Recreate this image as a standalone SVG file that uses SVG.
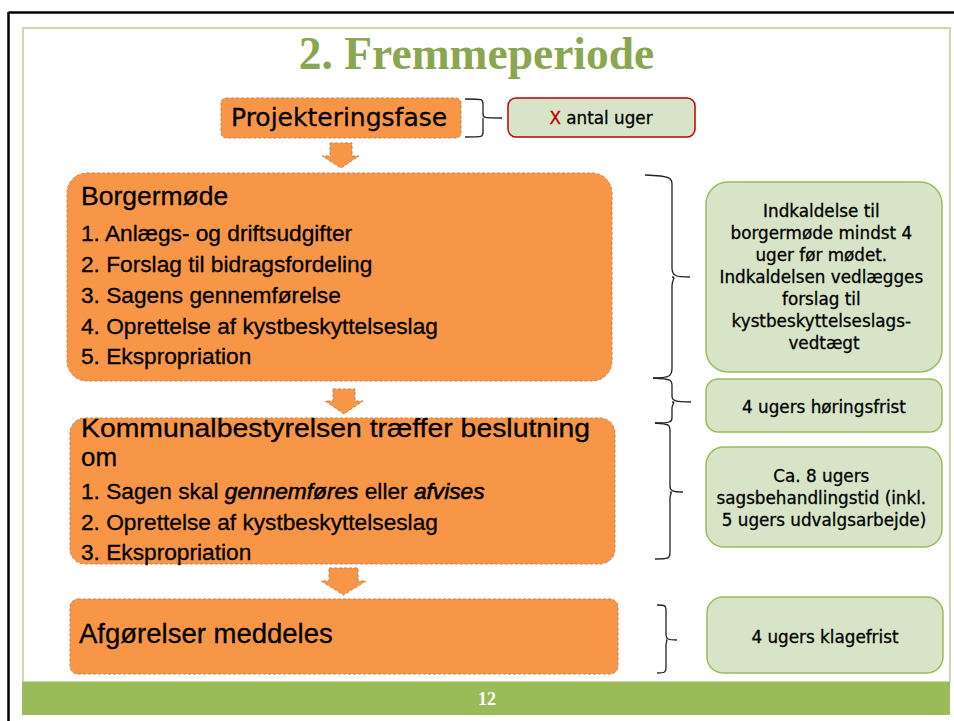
<svg xmlns="http://www.w3.org/2000/svg" width="954" height="721" viewBox="0 0 954 721">
<style>
.orange{fill:#f79646;stroke:#c8834d;stroke-width:1;stroke-dasharray:3 2}
.green{fill:#d8e4c8;stroke:#9bbb59;stroke-width:1.5}
.brace{fill:none;stroke:#222;stroke-width:1.3}
.ot{font-family:"Liberation Sans",Arial,sans-serif;fill:#000;stroke:#000;stroke-width:0.3}
.gt{font-family:"DejaVu Sans",Verdana,sans-serif;font-size:16.8px;fill:#000;stroke:#000;stroke-width:0.3;text-anchor:middle}
</style>
<rect x="0" y="0" width="954" height="721" fill="#fff"/>
<g id="frame">
<line x1="8.5" y1="12.5" x2="954" y2="12.5" stroke="#000" stroke-width="2.5"/>
<line x1="8.5" y1="12" x2="8.5" y2="721" stroke="#000" stroke-width="2.5"/>
<rect x="23" y="28" width="927" height="654" fill="none" stroke="#bcd08f" stroke-width="1.5"/>
<rect x="22" y="682" width="928" height="33" fill="#9bbb59"/>
<text x="487" y="705" font-family="Liberation Serif,serif" font-weight="bold" font-size="18" fill="#fff" text-anchor="middle">12</text>
</g>
<text id="title" x="476.5" y="69" font-family="Liberation Serif,serif" font-weight="bold" font-size="45.5" fill="#8aa64f" text-anchor="middle">2. Fremmeperiode</text>

<g id="connectors">
<polygon class="orange" points="330,143 352,143 352,156 359,156 341,168 322,156 330,156"/>
<polygon class="orange" points="333,389 355,389 355,401 363,401 344,414 325,401 333,401"/>
<polygon class="orange" points="329,568 358,568 358,581 366,581 343.5,595 321,581 329,581"/>
<path class="brace" d="M465,99 C483,99 483,99 483,104 L483,113 C483,118 483,118 502,118 M483,118 C483,118 483,118 483,123 L483,132 C483,137 483,137 465,137"/>
<path class="brace" d="M645,175 C672,176 672,178 672,186 L672,268 C672,276 676,277 690,277 M672,277 C676,277 672,280 672,286 L672,368 C672,376 670,378 653,378"/>
<path class="brace" d="M653,378 C672,379 672,380 672,386 L672,396 C672,401 676,402 691,402 M672,402 C676,402 672,404 672,408 L672,418 C672,422 670,423 655,423"/>
<path class="brace" d="M655,423 C670,424 670,425 670,431 L670,486 C670,491 673,492 683,492 M670,492 C673,492 670,494 670,498 L670,553 C670,558 669,559 655,559"/>
<path class="brace" d="M657,605 C666,605 666,606 666,611 L666,635 C666,639 668,640 677,640 M666,640 C668,640 666,642 666,645 L666,668 C666,672 665,673 657,673"/>
</g>

<g id="projektering">
<rect class="orange" x="221" y="98" width="240" height="40" rx="5"/>
<text x="231" y="126" font-family="DejaVu Sans,Verdana,sans-serif" font-size="25" fill="#000" stroke="#000" stroke-width="0.3">Projekteringsfase</text>
</g>
<g id="xuger">
<rect x="508" y="98" width="187" height="39" rx="8" fill="#d8e4c8" stroke="#c00000" stroke-width="1.5"/>
<text class="gt" x="601" y="124"><tspan fill="#c00000" stroke="#c00000">X</tspan> antal uger</text>
</g>

<g id="borgermode">
<rect class="orange" x="67" y="173" width="545" height="208" rx="20"/>
<text class="ot" x="81" y="205" font-size="26.5">Borgermøde</text>
<text class="ot" font-size="22.7">
<tspan x="81" y="241">1. Anlægs- og driftsudgifter</tspan>
<tspan x="81" y="272">2. Forslag til bidragsfordeling</tspan>
<tspan x="81" y="303">3. Sagens gennemførelse</tspan>
<tspan x="81" y="334">4. Oprettelse af kystbeskyttelseslag</tspan>
<tspan x="81" y="364">5. Ekspropriation</tspan>
</text>
</g>

<g id="kommunal">
<rect class="orange" x="70" y="418" width="545" height="146" rx="15"/>
<text class="ot" x="81" y="437" font-size="26" textLength="509" lengthAdjust="spacingAndGlyphs">Kommunalbestyrelsen træffer beslutning</text>
<text class="ot" x="81" y="466" font-size="26">om</text>
<text class="ot" font-size="22.7">
<tspan x="81" y="499">1. Sagen skal <tspan font-style="italic" stroke-width="0.6">gennemføres</tspan> eller <tspan font-style="italic" stroke-width="0.6">afvises</tspan></tspan>
<tspan x="81" y="530">2. Oprettelse af kystbeskyttelseslag</tspan>
<tspan x="81" y="560">3. Ekspropriation</tspan>
</text>
</g>

<g id="afgorelser">
<rect class="orange" x="70" y="599" width="548" height="75" rx="8"/>
<text class="ot" x="79" y="643" font-size="27.5">Afgørelser meddeles</text>
</g>

<g id="indkaldelse">
<rect class="green" x="706" y="182" width="236" height="190" rx="22"/>
<text class="gt">
<tspan x="824" y="217">Indkaldelse til</tspan>
<tspan x="824" y="239">borgermøde mindst 4</tspan>
<tspan x="824" y="261">uger før mødet.</tspan>
<tspan x="824" y="283">Indkaldelsen vedlægges</tspan>
<tspan x="824" y="305">forslag til</tspan>
<tspan x="824" y="327">kystbeskyttelseslags-</tspan>
<tspan x="824" y="349">vedtægt</tspan>
</text>
</g>
<g id="horingsfrist">
<rect class="green" x="706" y="379" width="236" height="53" rx="12"/>
<text class="gt" x="824" y="413">4 ugers høringsfrist</text>
</g>
<g id="sagsbehandling">
<rect class="green" x="706" y="447" width="236" height="100" rx="18"/>
<text class="gt">
<tspan x="824" y="482">Ca. 8 ugers</tspan>
<tspan x="824" y="504">sagsbehandlingstid (inkl.</tspan>
<tspan x="824" y="526">5 ugers udvalgsarbejde)</tspan>
</text>
</g>
<g id="klagefrist">
<rect class="green" x="707" y="597" width="236" height="76" rx="16"/>
<text class="gt" x="825" y="643">4 ugers klagefrist</text>
</g>
</svg>
